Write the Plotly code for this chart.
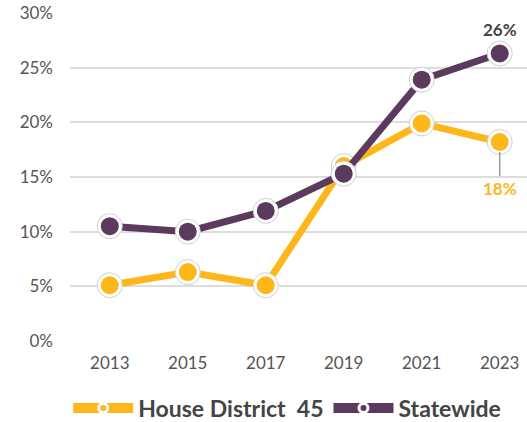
import plotly.graph_objects as go

years = ["2013", "2015", "2017", "2019", "2021", "2023"]
house = [5.1, 6.3, 5.1, 16.0, 19.9, 18.2]
state = [10.5, 10.0, 11.9, 15.3, 23.9, 26.3]
y_ticks = [0, 5, 10, 15, 20, 25, 30]
y_tick_labels = [f"{v}%" for v in y_ticks]
series_names = ["House District  45", "Statewide"]

GOLD = "#FDB71A"
PURPLE = "#5B3A5E"
FONT = "Lato"

fig = go.Figure()

for name, vals, col in [(series_names[0], house, GOLD), (series_names[1], state, PURPLE)]:
    fig.add_trace(go.Scatter(
        x=years, y=vals, mode="lines", showlegend=False, hoverinfo="skip",
        line=dict(color=col, width=7), cliponaxis=False))
    fig.add_trace(go.Scatter(
        x=years, y=vals, mode="markers", showlegend=False, hoverinfo="skip",
        marker=dict(size=25, color="white", line=dict(color="#d0d0d0", width=1)),
        cliponaxis=False))
    fig.add_trace(go.Scatter(
        x=years, y=vals, mode="markers", showlegend=False,
        marker=dict(size=18, color=col), cliponaxis=False))
    # legend entry
    fig.add_trace(go.Scatter(
        x=[None], y=[None], mode="lines+markers", name=name,
        line=dict(color=col, width=10),
        marker=dict(size=9, color=col, line=dict(color="white", width=3))))

last = len(years) - 1
fig.add_annotation(x=last, y=state[-1], text="<b>26%</b>", showarrow=False,
                   yshift=24, font=dict(family=FONT, size=17, color="#444444"))
fig.add_annotation(x=last, y=house[-1], text="<b>18%</b>", showarrow=True,
                   arrowhead=0, arrowwidth=1.5, arrowcolor="#999999",
                   ax=0, ay=46, standoff=10,
                   font=dict(family=FONT, size=17, color=GOLD))

fig.update_layout(
    width=527, height=422,
    margin=dict(l=70, r=0, t=13, b=81),
    plot_bgcolor="white", paper_bgcolor="white",
    font=dict(family=FONT, color="#555555"),
    xaxis=dict(type="category", range=[-0.51, 5.35], showgrid=False, zeroline=False,
               showline=False, ticks="", tickfont=dict(size=17, color="#555555"),
               ticklabelstandoff=10),
    yaxis=dict(range=[0, 30], tickvals=y_ticks, ticktext=y_tick_labels,
               showgrid=True, gridcolor="#dddddd", gridwidth=2, zeroline=False,
               showline=False, ticks="", tickfont=dict(size=17, color="#555555"),
               ticklabelstandoff=16),
    legend=dict(orientation="h", xref="container", yref="container",
                x=0.545, xanchor="center", y=0.033, yanchor="middle",
                font=dict(family=FONT, size=23, color="#444444", weight="bold"),
                itemwidth=60, tracegroupgap=0),
    showlegend=True,
)

fig.write_html("out.html", config={"displayModeBar": False},
               post_script="document.body.style.margin='0';")
